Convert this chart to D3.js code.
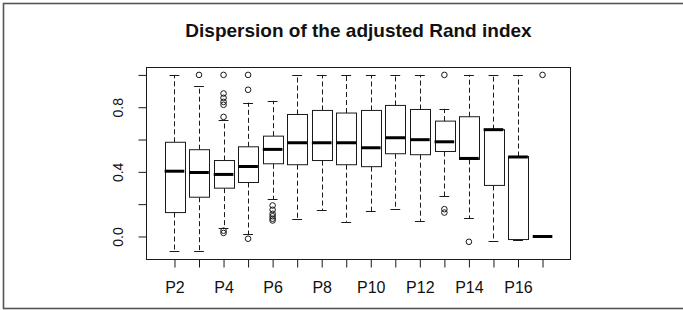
<!DOCTYPE html>
<html>
<head>
<meta charset="utf-8">
<script src="https://cdn.jsdelivr.net/npm/d3@7"></script>
<style>
  html, body { margin: 0; padding: 0; background: #fff; }
  svg { display: block; }
  text { font-family: "Liberation Sans", Arial, sans-serif; fill: #111; }
</style>
</head>
<body>
<svg id="chart" width="683" height="310"></svg>
<script>
// ---- data ----
const categories   = ["P2","P3","P4","P5","P6","P7","P8","P9","P10","P11","P12","P13","P14","P15","P16","P17"];
const lowerWhisker = [-0.087, -0.090, 0.054, 0.014, 0.231, 0.110, 0.163, 0.091, 0.157, 0.172, 0.097, 0.250, 0.113, -0.025, -0.019, 0.000];
const q1           = [ 0.148,  0.243, 0.299, 0.334, 0.450, 0.444, 0.470, 0.444, 0.432, 0.512, 0.506, 0.526, 0.477,  0.316, -0.019, 0.000];
const medians      = [ 0.404,  0.396, 0.384, 0.433, 0.539, 0.580, 0.580, 0.580, 0.549, 0.611, 0.599, 0.586, 0.483,  0.661,  0.492, 0.000];
const q3           = [ 0.583,  0.537, 0.470, 0.555, 0.621, 0.755, 0.780, 0.764, 0.780, 0.811, 0.786, 0.714, 0.741,  0.661,  0.495, 0.000];
const upperWhisker = [ 1.000,  0.933, 0.718, 0.828, 0.840, 1.000, 1.000, 1.000, 1.000, 1.000, 1.000, 0.790, 1.000,  1.000,  1.000, 0.000];
const outliers     = [
  [],
  [1.0],
  [1.0, 0.885, 0.858, 0.833, 0.815, 0.740, 0.036, 0.022],
  [1.0, 0.908, -0.014],
  [0.192, 0.165, 0.140, 0.125, 0.110, 0.099],
  [], [], [], [], [], [],
  [1.0, 0.169, 0.148],
  [-0.033],
  [], [],
  [1.0]
];
const yTickValues = [0, 0.2, 0.4, 0.6, 0.8, 1.0];
const yTickLabels = ["0.0", "", "0.4", "", "0.8", ""];
const xTickLabels = ["P2","","P4","","P6","","P8","","P10","","P12","","P14","","P16",""];
const titleText = "Dispersion of the adjusted Rand index";

// ---- layout ----
const svg = d3.select("#chart");
const plot = { left: 146.5, right: 570.5, top: 67.5, bottom: 259.5 };
const ink = "#1a1a1a";

const n = categories.length;
const x = d3.scaleLinear().domain([0.5 - 0.04 * n, n + 0.5 + 0.04 * n]).range([plot.left, plot.right]);
const y = d3.scaleLinear().domain([-0.1425, 1.0458]).range([plot.bottom, plot.top]);
const unit = x(2) - x(1);
const boxW = 0.8 * unit;
const capW = 0.4 * unit;
const px = v => Math.round(v) + 0.5;   // pixel-aligned 1px strokes

// outer frame of the image
svg.append("rect")
  .attr("x", 3.5).attr("y", 3.5).attr("width", 700).attr("height", 305)
  .attr("fill", "none").attr("stroke", "#555").attr("stroke-width", 1.6);

// title
svg.append("text")
  .attr("x", (plot.left + plot.right) / 2).attr("y", 37)
  .attr("text-anchor", "middle")
  .style("font-weight", "bold").style("font-size", "19px")
  .text(titleText);

// plot frame
svg.append("rect")
  .attr("x", plot.left).attr("y", plot.top)
  .attr("width", plot.right - plot.left).attr("height", plot.bottom - plot.top)
  .attr("fill", "none").attr("stroke", ink).attr("stroke-width", 1);

// y axis
const yAxis = d3.axisLeft(y).tickValues(yTickValues).tickSize(8)
  .tickFormat((d, i) => yTickLabels[i]);
const gy = svg.append("g").attr("transform", `translate(${plot.left},0)`).call(yAxis);
gy.select(".domain").remove();
gy.selectAll("line").attr("stroke", ink);
gy.selectAll("text")
  .attr("transform", "rotate(-90)")
  .attr("x", 0).attr("y", -28.5).attr("dy", "0.35em")
  .attr("text-anchor", "middle")
  .style("font-size", "14px").attr("fill", "#111");

// x axis
const xAxis = d3.axisBottom(x).tickValues(d3.range(1, n + 1)).tickSize(8)
  .tickFormat((d, i) => xTickLabels[i]);
const gx = svg.append("g").attr("transform", `translate(0,${plot.bottom})`).call(xAxis);
gx.select(".domain").remove();
gx.selectAll("line").attr("stroke", ink);
gx.selectAll("text").attr("y", 33.5).attr("dy", 0)
  .style("font-size", "16px").attr("fill", "#111");

// boxes
const g = svg.append("g");
categories.forEach((c, i) => {
  const cx = x(i + 1);
  const wx = px(cx);
  const gg = g.append("g");
  // whiskers (dashed)
  if (upperWhisker[i] > q3[i]) {
    gg.append("line").attr("x1", wx).attr("x2", wx)
      .attr("y1", y(q3[i])).attr("y2", y(upperWhisker[i]))
      .attr("stroke", ink).attr("stroke-dasharray", "5,3");
  }
  if (lowerWhisker[i] < q1[i]) {
    gg.append("line").attr("x1", wx).attr("x2", wx)
      .attr("y1", y(q1[i])).attr("y2", y(lowerWhisker[i]))
      .attr("stroke", ink).attr("stroke-dasharray", "5,3");
  }
  // caps
  [upperWhisker[i], lowerWhisker[i]].forEach(v => {
    gg.append("line").attr("x1", cx - capW / 2).attr("x2", cx + capW / 2)
      .attr("y1", px(y(v))).attr("y2", px(y(v))).attr("stroke", ink);
  });
  // box
  gg.append("rect")
    .attr("x", px(cx - boxW / 2)).attr("width", Math.round(boxW))
    .attr("y", y(q3[i])).attr("height", Math.max(0, y(q1[i]) - y(q3[i])))
    .attr("fill", "#fff").attr("stroke", ink).attr("stroke-width", 1);
  // median
  gg.append("line").attr("x1", cx - boxW / 2).attr("x2", cx + boxW / 2)
    .attr("y1", y(medians[i])).attr("y2", y(medians[i]))
    .attr("stroke", "#000").attr("stroke-width", 3);
  // outliers
  outliers[i].forEach(v => {
    gg.append("circle").attr("cx", cx).attr("cy", y(v)).attr("r", 2.8)
      .attr("fill", "none").attr("stroke", ink).attr("stroke-width", 1);
  });
});
</script>
</body>
</html>
